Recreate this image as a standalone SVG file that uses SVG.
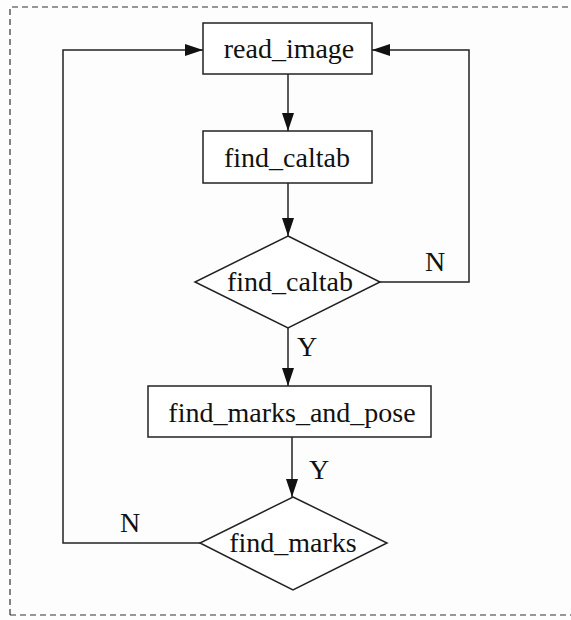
<svg xmlns="http://www.w3.org/2000/svg" width="571" height="620" viewBox="0 0 571 620">
<style>
.n{fill:#fff;stroke:#222;stroke-width:1.5}
.t{font-family:"Liberation Serif",serif;font-size:28px;fill:#111;text-anchor:middle}
.e{fill:none;stroke:#222;stroke-width:1.5}
</style>
<defs>
<marker id="a" markerWidth="18" markerHeight="12" refX="18" refY="6" orient="auto" markerUnits="userSpaceOnUse">
<path d="M0,0 L18,6 L0,12 Z" fill="#111"/>
</marker>
</defs>
<rect x="0" y="0" width="571" height="620" fill="#fdfdfd"/>
<path d="M10,615 L10,7 L571,7 M10,615 L571,615" fill="none" stroke="#333" stroke-width="1.2" stroke-dasharray="6,4"/>
<g id="connectors">
<path class="e" d="M288,74 L288,131" marker-end="url(#a)"/>
<path class="e" d="M288,183 L288,236" marker-end="url(#a)"/>
<path class="e" d="M380,282 L469,282 L469,50 L372,50" marker-end="url(#a)"/>
<text class="t" x="435" y="271">N</text>
<path class="e" d="M288,328 L288,386" marker-end="url(#a)"/>
<text class="t" x="307" y="356">Y</text>
<path class="e" d="M292,437 L292,497" marker-end="url(#a)"/>
<text class="t" x="319" y="479">Y</text>
<path class="e" d="M200,543 L63,543 L63,50 L203,50" marker-end="url(#a)"/>
<text class="t" x="130" y="532">N</text>
</g>
<g id="read_image">
<rect class="n" x="203" y="23" width="169" height="51"/>
<text class="t" x="289" y="58">read_image</text>
</g>
<g id="find_caltab_box">
<rect class="n" x="203" y="131" width="169" height="52"/>
<text class="t" x="287" y="167">find_caltab</text>
</g>
<g id="find_caltab_decision">
<polygon class="n" points="288,236 380,282 288,328 195,282"/>
<text class="t" x="290" y="291">find_caltab</text>
</g>
<g id="find_marks_and_pose">
<rect class="n" x="148" y="386" width="283" height="51"/>
<text class="t" x="292" y="422">find_marks_and_pose</text>
</g>
<g id="find_marks">
<polygon class="n" points="293,497 387,543 293,590 200,543"/>
<text class="t" x="293" y="552">find_marks</text>
</g>
</svg>
